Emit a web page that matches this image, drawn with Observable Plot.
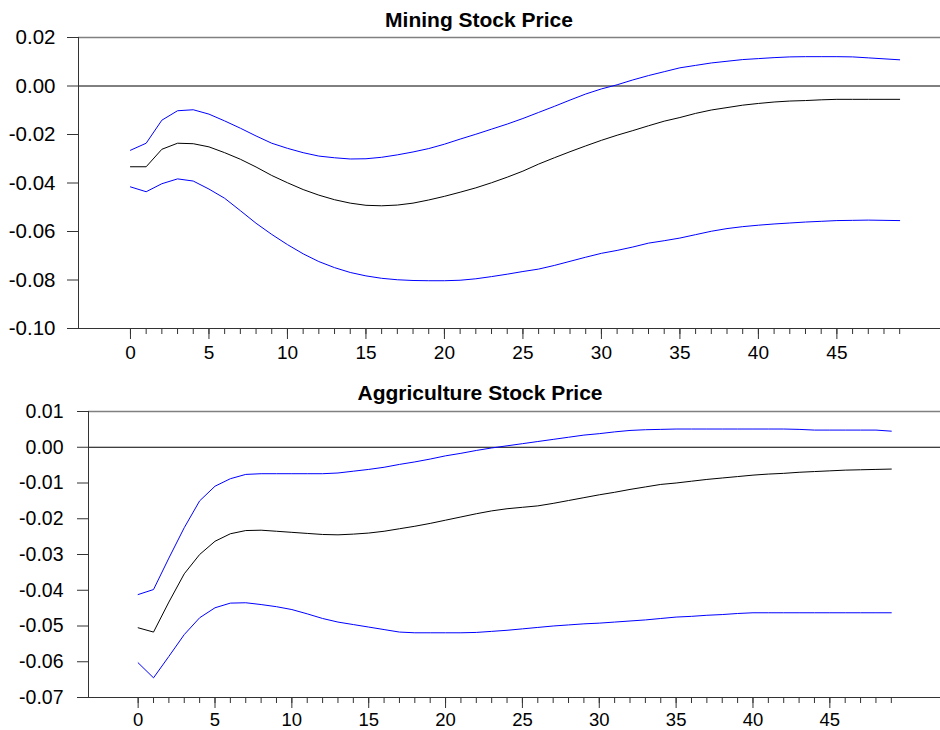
<!DOCTYPE html>
<html><head><meta charset="utf-8">
<script src="https://cdn.jsdelivr.net/npm/d3@7"></script>
<script src="https://cdn.jsdelivr.net/npm/@observablehq/plot@0.6"></script>
<style>
body{margin:0;background:#fff;font-family:"Liberation Sans",Arial,sans-serif;}
#wrap{position:relative;width:940px;height:730px;overflow:hidden;}
.title{position:absolute;font-weight:bold;font-size:21px;line-height:21px;white-space:nowrap;transform:translateX(-50%);color:#000;z-index:2;}
.panel{position:absolute;left:0;z-index:1;}
</style></head><body>
<div id="wrap">
 <div class="panel" id="p1" style="top:0px"></div>
 <div class="panel" id="p2" style="top:370px"></div>
 <div class="title" style="left:479px;top:9px">Mining Stock Price</div>
 <div class="title" style="left:480px;top:382px">Aggriculture Stock Price</div>
</div>
<script>
const periods = [0,1,2,3,4,5,6,7,8,9,10,11,12,13,14,15,16,17,18,19,20,21,22,23,24,25,26,27,28,29,30,31,32,33,34,35,36,37,38,39,40,41,42,43,44,45,46,47,48,49];
const majorTicks = [0,5,10,15,20,25,30,35,40,45];

const miningTitle = "Mining Stock Price";
const miningYTicks = [-0.10,-0.08,-0.06,-0.04,-0.02,0.00,0.02];
const miningMean = [-0.0333,-0.0333,-0.0261,-0.0236,-0.0238,-0.0251,-0.0275,-0.0302,-0.0334,-0.0369,-0.0399,-0.0427,-0.0450,-0.0469,-0.0483,-0.0492,-0.0494,-0.0491,-0.0483,-0.0470,-0.0455,-0.0438,-0.0420,-0.0399,-0.0376,-0.0351,-0.0322,-0.0296,-0.0271,-0.0247,-0.0224,-0.0203,-0.0184,-0.0164,-0.0145,-0.0130,-0.0113,-0.0099,-0.0089,-0.0079,-0.0072,-0.0066,-0.0062,-0.0060,-0.0057,-0.0055,-0.0055,-0.0055,-0.0055,-0.0055];
const miningUpper = [-0.0265,-0.0236,-0.0141,-0.0102,-0.0098,-0.0116,-0.0144,-0.0174,-0.0206,-0.0236,-0.0257,-0.0275,-0.0289,-0.0296,-0.0301,-0.0300,-0.0294,-0.0284,-0.0272,-0.0258,-0.0240,-0.0219,-0.0199,-0.0178,-0.0157,-0.0134,-0.0109,-0.0084,-0.0058,-0.0033,-0.0012,0.0005,0.0025,0.0043,0.0059,0.0075,0.0085,0.0095,0.0102,0.0109,0.0113,0.0117,0.0120,0.0121,0.0121,0.0121,0.0120,0.0116,0.0112,0.0108];
const miningLower = [-0.0416,-0.0436,-0.0403,-0.0383,-0.0392,-0.0425,-0.0463,-0.0514,-0.0566,-0.0612,-0.0654,-0.0692,-0.0724,-0.0749,-0.0769,-0.0783,-0.0793,-0.0799,-0.0802,-0.0803,-0.0803,-0.0801,-0.0795,-0.0786,-0.0776,-0.0765,-0.0755,-0.0740,-0.0723,-0.0706,-0.0690,-0.0678,-0.0664,-0.0648,-0.0638,-0.0627,-0.0613,-0.0599,-0.0588,-0.0580,-0.0574,-0.0569,-0.0565,-0.0561,-0.0558,-0.0555,-0.0554,-0.0553,-0.0554,-0.0555];

const agriTitle = "Aggriculture Stock Price";
const agriYTicks = [-0.07,-0.06,-0.05,-0.04,-0.03,-0.02,-0.01,0.00,0.01];
const agriMean = [-0.0505,-0.0517,-0.0433,-0.0354,-0.0300,-0.0263,-0.0242,-0.0233,-0.0232,-0.0235,-0.0238,-0.0241,-0.0244,-0.0245,-0.0243,-0.0240,-0.0235,-0.0228,-0.0221,-0.0213,-0.0204,-0.0195,-0.0186,-0.0178,-0.0172,-0.0168,-0.0164,-0.0157,-0.0149,-0.0141,-0.0133,-0.0126,-0.0118,-0.0111,-0.0104,-0.0100,-0.0095,-0.0090,-0.0086,-0.0082,-0.0078,-0.0075,-0.0073,-0.0070,-0.0068,-0.0066,-0.0064,-0.0063,-0.0062,-0.0061];
const agriUpper = [-0.0412,-0.0398,-0.0310,-0.0225,-0.0150,-0.0109,-0.0088,-0.0076,-0.0074,-0.0074,-0.0074,-0.0074,-0.0074,-0.0072,-0.0067,-0.0062,-0.0056,-0.0048,-0.0041,-0.0033,-0.0024,-0.0017,-0.0009,-0.0002,0.0004,0.0010,0.0016,0.0022,0.0028,0.0034,0.0038,0.0043,0.0047,0.0049,0.0050,0.0051,0.0051,0.0051,0.0051,0.0051,0.0051,0.0051,0.0051,0.0050,0.0048,0.0048,0.0048,0.0048,0.0048,0.0045];
const agriLower = [-0.0603,-0.0645,-0.0585,-0.0524,-0.0477,-0.0449,-0.0436,-0.0435,-0.0440,-0.0446,-0.0454,-0.0466,-0.0479,-0.0489,-0.0496,-0.0503,-0.0510,-0.0517,-0.0519,-0.0519,-0.0519,-0.0519,-0.0518,-0.0515,-0.0512,-0.0508,-0.0504,-0.0500,-0.0497,-0.0494,-0.0492,-0.0489,-0.0486,-0.0483,-0.0479,-0.0475,-0.0473,-0.0470,-0.0468,-0.0465,-0.0463,-0.0463,-0.0463,-0.0463,-0.0463,-0.0463,-0.0463,-0.0463,-0.0463,-0.0463];

function toRows(vals) { return periods.map((p, i) => ({period: p, value: vals[i]})); }

function panel(o) {
  const [x0, x1] = o.xDomain;
  const [y0, y1] = o.yDomain;
  return Plot.plot({
    width: 940, height: o.height,
    marginTop: o.marginTop, marginBottom: o.marginBottom,
    marginLeft: o.marginLeft, marginRight: 0,
    x: {domain: o.xDomain, axis: null, label: null},
    y: {domain: o.yDomain, axis: null, label: null},
    style: {fontFamily: "'Liberation Sans', Arial, sans-serif", color: "#000", background: "transparent", overflow: "visible"},
    marks: [
      Plot.ruleY([y1], {stroke: "#808080", strokeWidth: 1.5}),
      Plot.ruleY([0], {stroke: "#000", strokeWidth: 1}),
      Plot.axisY({ticks: o.yTicks, tickSize: 11, tickPadding: o.yPad, tickFormat: d => d.toFixed(2), fontSize: o.yFont, stroke: "#333", label: null}),
      Plot.axisX({ticks: periods, tickSize: 6, tickFormat: () => "", stroke: "#333", label: null}),
      Plot.axisX({ticks: majorTicks, tickSize: 11, tickPadding: o.xPad, tickFormat: d => String(d), fontSize: o.xFont, stroke: "#333", label: null}),
      Plot.ruleY([y0], {stroke: "#333", strokeWidth: 1}),
      Plot.ruleX([x0], {stroke: "#333", strokeWidth: 1}),
      Plot.line(toRows(o.lower), {x: "period", y: "value", stroke: "#0000ff", strokeWidth: 1}),
      Plot.line(toRows(o.upper), {x: "period", y: "value", stroke: "#0000ff", strokeWidth: 1}),
      Plot.line(toRows(o.mean), {x: "period", y: "value", stroke: "#000", strokeWidth: 1})
    ]
  });
}

document.getElementById("p1").appendChild(panel({
  height: 370, marginTop: 37, marginBottom: 42, marginLeft: 78,
  xDomain: [-3.31, 51.6], yDomain: [-0.10, 0.02], yTicks: miningYTicks,
  yPad: 12, yFont: 20.5, xPad: 6, xFont: 19,
  mean: miningMean, upper: miningUpper, lower: miningLower
}));
document.getElementById("p2").appendChild(panel({
  height: 360, marginTop: 41, marginBottom: 33, marginLeft: 88,
  xDomain: [-3.23, 52.2], yDomain: [-0.07, 0.01], yTicks: agriYTicks,
  yPad: 14, yFont: 19.5, xPad: 4, xFont: 18.5,
  mean: agriMean, upper: agriUpper, lower: agriLower
}));
</script>
</body></html>
